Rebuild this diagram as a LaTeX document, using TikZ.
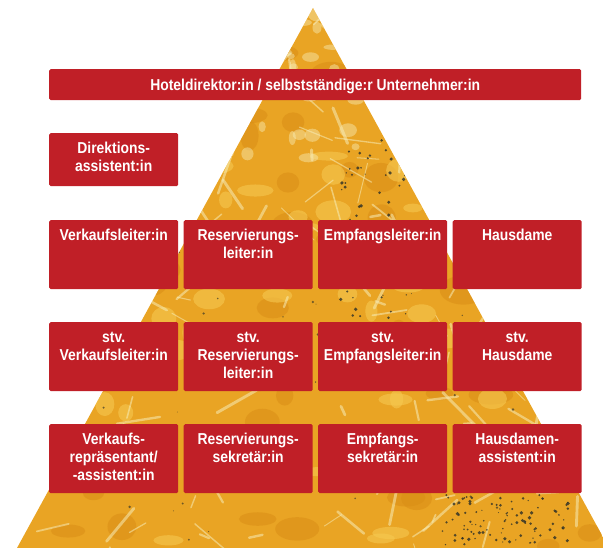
\documentclass[tikz,border=0pt]{standalone}
\usepackage{fontspec}
\setmainfont{Liberation Sans}[FakeStretch=0.88]
\usepackage{xcolor}
\definecolor{hotelred}{RGB}{192,31,39}
\definecolor{pyrgold}{RGB}{233,164,36}
\definecolor{pyrdark}{RGB}{218,142,22}
\definecolor{pyrlight}{RGB}{246,200,80}
\definecolor{pyrcream}{RGB}{247,236,182}
\definecolor{speck}{RGB}{45,48,40}

\tikzset{
  redbox/.style={fill=hotelred, rounded corners=1.5pt, inner sep=0pt, anchor=north west},
  boxtext/.style={anchor=north, inner sep=0pt, align=center, text=white,
    font=\fontsize{15.8}{18}\selectfont\bfseries},
}

\begin{document}
\begin{tikzpicture}[x=1pt,y=-1pt]
\useasboundingbox (0,0) rectangle (603,548);

% pyramid
\coordinate (apex) at (313,8);
\coordinate (baseleft) at (17,548);
\coordinate (baseright) at (609,548);
\begin{scope}
  \clip (apex) -- (baseleft) -- (baseright) -- cycle;
  \fill[pyrgold] (0,0) rectangle (610,548);
  \pgfmathsetseed{42}
  \foreach \k in {1,...,60}{
    \fill[pyrdark, opacity=.55] ({30+560*rnd},{10+540*rnd}) ellipse ({8+16*rnd} and {5+10*rnd});
  }
  \foreach \k in {1,...,70}{
    \fill[pyrlight, opacity=.6] ({30+560*rnd},{10+540*rnd}) ellipse ({6+14*rnd} and {4+8*rnd});
  }
  % lighter top part
  \foreach \k in {1,...,40}{
    \fill[pyrcream, opacity=.45] ({240+150*rnd},{10+150*rnd}) ellipse ({3+7*rnd} and {2+5*rnd});
  }
  \foreach \k in {1,...,170}{
    \pgfmathsetmacro\px{30+560*rnd}
    \pgfmathsetmacro\py{10+540*rnd}
    \pgfmathsetmacro\pa{360*rnd}
    \pgfmathsetmacro\pl{8+40*rnd}
    \draw[pyrcream, opacity=.55, line width={0.6+2.4*rnd}, line cap=round] (\px,\py) -- ++(\pa:\pl);
  }
  % dark specks
  \foreach \k in {1,...,70}{
    \fill[speck, opacity=.8] ({340+70*rnd},{130+200*rnd}) circle ({0.6+1.3*rnd});
  }
  \foreach \k in {1,...,100}{
    \fill[speck, opacity=.8] ({440+130*rnd},{495+50*rnd}) circle ({0.6+1.3*rnd});
  }
  \foreach \k in {1,...,70}{
    \fill[speck, opacity=.65] ({80+450*rnd},{190+350*rnd}) circle ({0.4+1.0*rnd});
  }
\end{scope}

% boxes
\node[redbox, minimum width=532, minimum height=31] (hotel) at (49,69) {};
\node[redbox, minimum width=129, minimum height=53] (dirass) at (49,133) {};

\node[redbox, minimum width=129, minimum height=69] (vk) at (49,220) {};
\node[redbox, minimum width=129, minimum height=69] (res) at (183.5,220) {};
\node[redbox, minimum width=129, minimum height=69] (emp) at (318,220) {};
\node[redbox, minimum width=129, minimum height=69] (haus) at (452.5,220) {};

\node[redbox, minimum width=129, minimum height=69] (svk) at (49,322) {};
\node[redbox, minimum width=129, minimum height=69] (sres) at (183.5,322) {};
\node[redbox, minimum width=129, minimum height=69] (semp) at (318,322) {};
\node[redbox, minimum width=129, minimum height=69] (shaus) at (452.5,322) {};

\node[redbox, minimum width=129, minimum height=69] (rep) at (49,424) {};
\node[redbox, minimum width=129, minimum height=69] (rsek) at (183.5,424) {};
\node[redbox, minimum width=129, minimum height=69] (esek) at (318,424) {};
\node[redbox, minimum width=129, minimum height=69] (hass) at (452.5,424) {};

% labels
\node[boxtext, anchor=base] (hotel-t) at ([yshift=-6pt]hotel.center) {Hoteldirektor:in / selbstständige:r Unternehmer:in};
\node[boxtext] (dirass-t) at ([yshift=-8pt]dirass.north) {\strut Direktions-\\assistent:in};

\node[boxtext] (vk-t) at ([yshift=-8pt]vk.north) {\strut Verkaufsleiter:in};
\node[boxtext] (res-t) at ([yshift=-8pt]res.north) {\strut Reservierungs-\\leiter:in};
\node[boxtext] (emp-t) at ([yshift=-8pt]emp.north) {\strut Empfangsleiter:in};
\node[boxtext] (haus-t) at ([yshift=-8pt]haus.north) {\strut Hausdame};

\node[boxtext] (svk-t) at ([yshift=-8pt]svk.north) {\strut stv.\\Verkaufsleiter:in};
\node[boxtext] (sres-t) at ([yshift=-8pt]sres.north) {\strut stv.\\Reservierungs-\\leiter:in};
\node[boxtext] (semp-t) at ([yshift=-8pt]semp.north) {\strut stv.\\Empfangsleiter:in};
\node[boxtext] (shaus-t) at ([yshift=-8pt]shaus.north) {\strut stv.\\Hausdame};

\node[boxtext] (rep-t) at ([yshift=-8pt]rep.north) {\strut Verkaufs-\\repräsentant/\\-assistent:in};
\node[boxtext] (rsek-t) at ([yshift=-8pt]rsek.north) {\strut Reservierungs-\\sekretär:in};
\node[boxtext] (esek-t) at ([yshift=-8pt]esek.north) {\strut Empfangs-\\sekretär:in};
\node[boxtext] (hass-t) at ([yshift=-8pt]hass.north) {\strut Hausdamen-\\assistent:in};
\end{tikzpicture}
\end{document}
